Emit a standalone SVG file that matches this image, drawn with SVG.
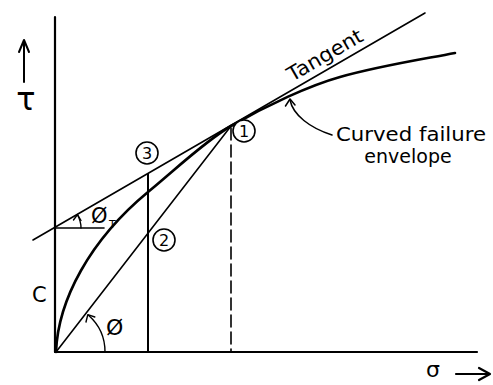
<svg xmlns="http://www.w3.org/2000/svg" width="493" height="385" viewBox="0 0 493 385">
<style>
.ln{fill:none;stroke:#000;stroke-linecap:round;stroke-linejoin:round}
.t{font-family:"DejaVu Sans",sans-serif;fill:#000}
.c{fill:#fff;stroke:#000;stroke-width:1.6}
</style>
<rect width="493" height="385" fill="#fff"/>
<g id="connectors">
<path id="y-axis" class="ln" stroke-width="2.2" d="M55,17 V352"/>
<path id="x-axis" class="ln" stroke-width="2.2" d="M55,352 H477"/>
<path id="tangent-line" class="ln" stroke-width="1.6" d="M33,240 L425,13"/>
<path id="envelope" class="ln" stroke-width="2.6" d="M56,352 C58,300 90,240 148,192 C175,170 205,141 231,126 C268,104.7 310,85.4 340,77 C380,65.8 420,59.7 455,53"/>
<path id="line2" class="ln" stroke-width="1.6" d="M56,352 L231,126"/>
<path id="vert3" class="ln" stroke-width="2" d="M148,352 V174"/>
<path id="dashed1" class="ln" stroke-width="1.6" stroke-dasharray="12,5" stroke-linecap="butt" d="M231,128 V352"/>
<path id="phiT-h" class="ln" stroke-width="1.6" d="M55,228 H104"/>
<path id="phiT-arc" class="ln" stroke-width="1.4" d="M81,228 A26,26 0 0 0 77.5,215"/>
<path class="ln" stroke-width="1.4" d="M73.5,220 L77.5,214.5 L81,220.5"/>
<path id="phi-arc" class="ln" stroke-width="1.4" d="M105,352 A49,49 0 0 0 88.5,315.2"/>
<path class="ln" stroke-width="1.4" d="M86,322 L87.8,314.6 L94.8,317"/>
<path id="leader" class="ln" stroke-width="1.5" d="M332,135 C310,128 293,115 290,100"/>
<path class="ln" stroke-width="1.5" d="M285.5,106 L290,99 L295,105"/>
<path id="tau-arrow" class="ln" stroke-width="2" d="M24,82 V41"/>
<path class="ln" stroke-width="2" d="M19,52 L24,40 L29,52"/>
<path id="sigma-arrow" class="ln" stroke-width="2.2" d="M456,374 H489"/>
<path class="ln" stroke-width="2.2" d="M479,368 L490,374 L479,380"/>
</g>
<g id="node-1"><circle class="c" cx="244" cy="131" r="11"/><text class="t" x="244" y="137" font-size="16" text-anchor="middle">1</text></g>
<g id="node-2"><circle class="c" cx="164" cy="240" r="11"/><text class="t" x="164" y="246" font-size="16" text-anchor="middle">2</text></g>
<g id="node-3"><circle class="c" cx="147" cy="153" r="11"/><text class="t" x="147" y="159" font-size="16" text-anchor="middle">3</text></g>
<g id="label-tangent"><text class="t" font-size="20" transform="translate(292,82) rotate(-30)" textLength="84" lengthAdjust="spacingAndGlyphs">Tangent</text></g>
<g id="label-envelope">
<text class="t" x="411" y="141" font-size="19" text-anchor="middle" textLength="150" lengthAdjust="spacingAndGlyphs">Curved failure</text>
<text class="t" x="408" y="163" font-size="19" text-anchor="middle">envelope</text>
</g>
<g id="label-c"><text class="t" x="32" y="302" font-size="21">C</text></g>
<g id="label-phiT"><text class="t" x="91" y="223" font-size="21">Ø</text><text class="t" x="109" y="228" font-size="11">T</text></g>
<g id="label-phi"><text class="t" x="106" y="335" font-size="22">Ø</text></g>
<g id="label-tau"><text class="t" x="26" y="110" font-size="32" text-anchor="middle">τ</text></g>
<g id="label-sigma"><text class="t" x="426" y="377" font-size="22">σ</text></g>
</svg>
